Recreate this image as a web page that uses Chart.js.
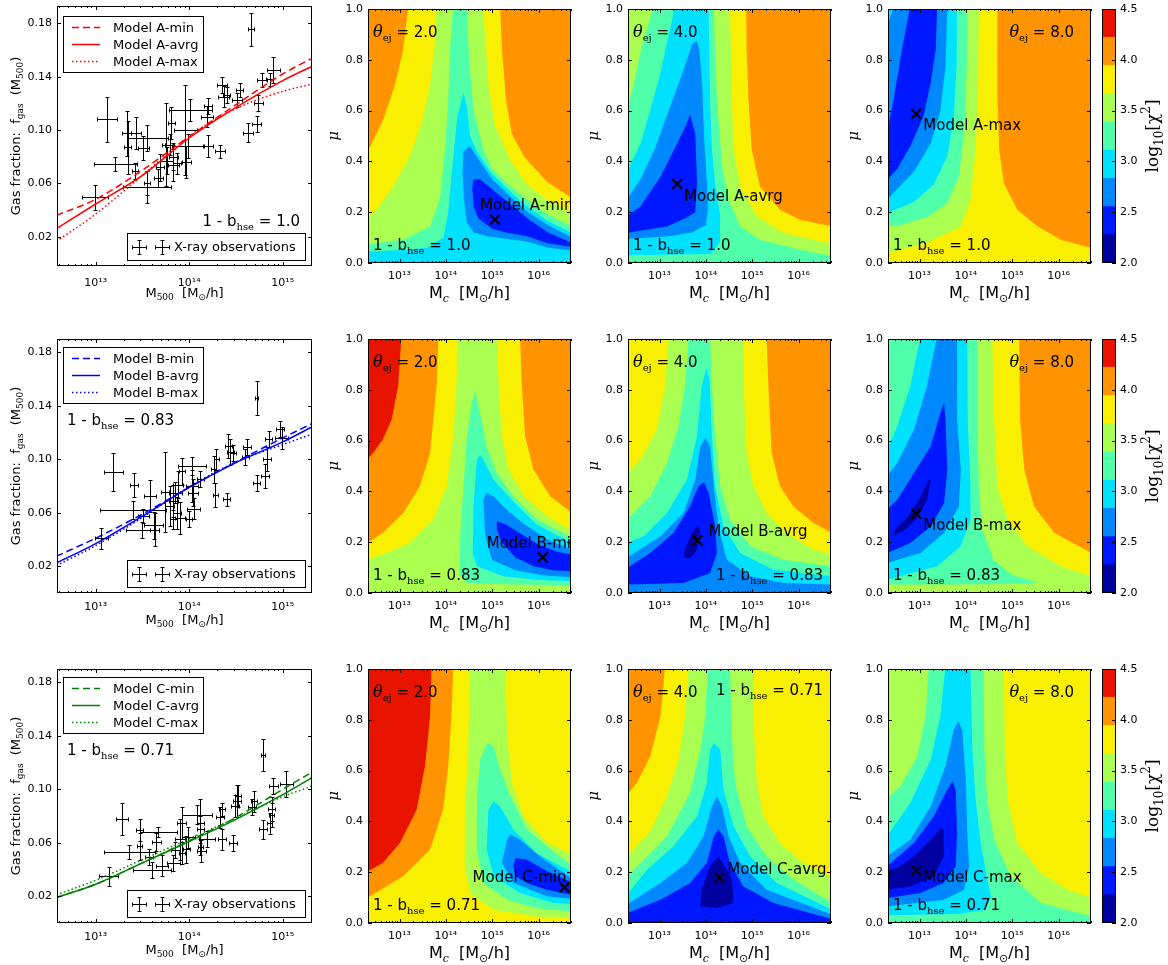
<!DOCTYPE html>
<html>
<head>
<meta charset="utf-8">
<title>Gas fraction fits and chi2 maps</title>
<script src="https://cdn.jsdelivr.net/npm/chart.js@4.4.1/dist/chart.umd.min.js"></script>
<style>
  html, body { margin: 0; padding: 0; background: #fff; }
  body { position: relative; width: 1168px; height: 965px; overflow: hidden; }
  canvas { position: absolute; }
</style>
</head>
<body>
<script>
// ---------- values ----------

// contour levels of log10(chi^2) and the band colours between them
const levels = [2.0, 2.2778, 2.5556, 2.8333, 3.1111, 3.3889, 3.6667, 3.9444, 4.2222, 4.5];
const bandColors = ['#0000a0', '#0018ff', '#0088ff', '#00e0ff', '#50ffaa', '#aaff50', '#f8f000', '#ff9400', '#e81400'];
const colorbarTicks = [2.0, 2.5, 3.0, 3.5, 4.0, 4.5];

const modelNames = ['A', 'B', 'C'];
const fitNames = ['min', 'avrg', 'max'];
const lineColors = ['#ff0000', '#0000ff', '#008000'];
const hseValues = ['1.0', '0.83', '0.71'];
const thetaValues = ['2.0', '4.0', '8.0'];

const fgasTicks = [0.02, 0.06, 0.10, 0.14, 0.18];
const muTicks = [0, 0.2, 0.4, 0.6, 0.8, 1.0];
const decadesFgas = [13, 14, 15];
const decadesMc = [13, 14, 15, 16];

// model curves, log10 M500 vs f_gas
const modelLogM = [12.58, 13.0, 13.5, 14.0, 14.5, 15.0, 15.32];
const fgasAmin = [0.036, 0.048, 0.070, 0.095, 0.119, 0.142, 0.154];
const fgasAavg = [0.026, 0.0445, 0.066, 0.094, 0.117, 0.137, 0.148];
const fgasAmax = [0.0165, 0.037, 0.066, 0.0955, 0.116, 0.129, 0.1345];
const fgasBmin = [0.0275, 0.041, 0.059, 0.079, 0.098, 0.116, 0.127];
const fgasBavg = [0.0225, 0.037, 0.0575, 0.079, 0.0975, 0.113, 0.1245];
const fgasBmax = [0.0205, 0.0355, 0.0565, 0.0795, 0.098, 0.111, 0.119];
const fgasCmin = [0.019, 0.029, 0.045, 0.0615, 0.079, 0.100, 0.113];
const fgasCavg = [0.019, 0.029, 0.045, 0.061, 0.0775, 0.096, 0.109];
const fgasCmax = [0.021, 0.032, 0.0475, 0.063, 0.0785, 0.0945, 0.1025];

// X-ray observations: log10 M500, half width in dex, f_gas, error
const obsA_logM = [14.66,13.12,13.33,13.34,12.99,13.42,13.51,13.55,13.21,13.55,13.55,13.67,13.76,13.75,13.79,13.83,13.87,13.81,13.96,14.01,13.97,13.99,13.83,14.19,14.20,14.33,14.20,14.35,14.37,14.40,14.51,14.54,14.63,14.72,14.74,14.78,14.86,14.90,13.69,13.43];
const obsA_dlogM = [0.035,0.11,0.05,0.04,0.14,0.035,0.06,0.22,0.23,0.035,0.26,0.05,0.07,0.04,0.05,0.05,0.04,0.04,0.12,0.23,0.05,0.17,0.06,0.06,0.05,0.05,0.04,0.05,0.06,0.04,0.05,0.04,0.05,0.05,0.05,0.05,0.04,0.07,0.04,0.05];
const obsA_f = [0.1755,0.108,0.0975,0.087,0.0495,0.069,0.0865,0.094,0.0745,0.06,0.057,0.064,0.077,0.089,0.089,0.08,0.075,0.105,0.1,0.115,0.076,0.088,0.0735,0.11,0.088,0.084,0.118,0.134,0.125,0.126,0.1225,0.13,0.098,0.1045,0.12,0.1375,0.138,0.145,0.072,0.0975];
const obsA_df = [0.0125,0.017,0.017,0.02,0.0095,0.006,0.009,0.01,0.005,0.009,0.012,0.007,0.01,0.031,0.008,0.01,0.008,0.012,0.034,0.008,0.012,0.009,0.012,0.008,0.008,0.005,0.006,0.006,0.008,0.006,0.005,0.005,0.007,0.006,0.006,0.005,0.005,0.01,0.01,0.012];

const obsB_logM = [14.72,13.19,13.06,13.41,13.58,13.40,13.51,13.62,13.63,13.50,13.74,13.79,13.83,13.85,13.87,13.90,13.88,14.03,13.92,14.03,14.04,14.05,14.26,14.29,14.28,14.40,14.42,14.44,14.47,14.60,14.62,14.72,14.81,14.83,14.85,14.97,14.99,14.12,14.00,13.83];
const obsB_dlogM = [0.02,0.1,0.07,0.04,0.06,0.35,0.06,0.1,0.05,0.18,0.04,0.05,0.05,0.07,0.04,0.05,0.05,0.15,0.03,0.06,0.05,0.07,0.03,0.03,0.03,0.04,0.04,0.04,0.03,0.04,0.04,0.04,0.04,0.04,0.04,0.04,0.07,0.04,0.03,0.04];
const obsB_f = [0.1458,0.0905,0.0408,0.081,0.0725,0.062,0.0575,0.0505,0.0475,0.047,0.0755,0.065,0.069,0.075,0.06,0.056,0.081,0.095,0.091,0.08,0.075,0.063,0.0925,0.1,0.0735,0.07,0.11,0.1055,0.105,0.102,0.109,0.082,0.0875,0.1,0.115,0.1225,0.116,0.085,0.055,0.055];
const obsB_df = [0.013,0.014,0.008,0.009,0.012,0.007,0.005,0.01,0.012,0.006,0.03,0.015,0.012,0.008,0.012,0.012,0.01,0.007,0.01,0.012,0.01,0.008,0.01,0.008,0.009,0.005,0.009,0.01,0.006,0.006,0.006,0.006,0.009,0.009,0.006,0.006,0.008,0.006,0.006,0.007];

const obsC_logM = [14.79,13.28,13.14,13.47,13.47,13.65,13.36,13.57,13.67,13.71,13.60,13.83,13.85,13.90,13.92,13.97,13.99,14.08,14.12,14.13,14.19,14.12,14.33,14.35,14.35,14.47,14.49,14.51,14.52,14.67,14.69,14.79,14.86,14.88,14.90,15.04,14.88,14.12,13.92];
const obsC_dlogM = [0.02,0.06,0.1,0.04,0.03,0.05,0.27,0.04,0.2,0.06,0.2,0.07,0.05,0.05,0.05,0.04,0.07,0.16,0.04,0.05,0.09,0.04,0.04,0.04,0.03,0.04,0.04,0.04,0.03,0.04,0.03,0.04,0.03,0.04,0.05,0.07,0.03,0.03,0.03];
const obsC_f = [0.1255,0.0775,0.035,0.0695,0.0575,0.0605,0.053,0.0495,0.068,0.043,0.04,0.045,0.0545,0.0625,0.075,0.055,0.064,0.081,0.07,0.054,0.0625,0.075,0.079,0.0625,0.085,0.06,0.0875,0.091,0.095,0.087,0.091,0.07,0.0745,0.085,0.1025,0.104,0.081,0.057,0.0525];
const obsC_df = [0.012,0.012,0.007,0.008,0.01,0.007,0.005,0.006,0.004,0.008,0.006,0.006,0.006,0.015,0.012,0.01,0.008,0.007,0.01,0.008,0.006,0.018,0.008,0.008,0.005,0.006,0.008,0.012,0.008,0.006,0.008,0.007,0.008,0.009,0.006,0.01,0.009,0.006,0.008];

// best-fit points (log10 Mc, mu) per model row and theta_ej column
const bestLogMc = [[15.06, 13.38, 12.93], [16.09, 13.82, 12.93], [16.56, 14.29, 12.93]];
const bestMu = [[0.171, 0.311, 0.587], [0.14, 0.207, 0.312], [0.14, 0.178, 0.206]];

// contour regions: [band, outline in (log10 Mc, mu)], each one the set of
// points below a level; painted from the outside in
const baseBands = [[7, 7, 7], [8, 7, 7], [8, 7, 6]];
const FULL = [[12.3,-0.01],[16.72,-0.01],[16.72,1.01],[12.3,1.01]];

const regA2 = [
  [6, [[12.3,0.435],[12.64,0.56],[12.9,0.70],[13.08,0.84],[13.19,1.01],[15.17,1.01],[15.21,0.84],[15.3,0.64],[15.42,0.51],[15.68,0.42],[16.18,0.32],[16.72,0.255],[16.72,-0.01],[12.3,-0.01]]],
  [5, [[12.3,0.175],[12.5,0.21],[12.86,0.30],[13.22,0.42],[13.48,0.55],[13.66,0.70],[13.77,0.88],[13.80,1.01],[14.81,1.01],[14.85,0.88],[14.92,0.70],[15.06,0.54],[15.4,0.40],[15.75,0.31],[16.2,0.245],[16.72,0.197],[16.72,-0.01],[12.3,-0.01]]],
  [4, [[12.3,0.072],[13.08,0.092],[13.66,0.144],[13.87,0.249],[13.98,0.446],[14.05,0.643],[14.09,0.84],[14.16,1.01],[14.45,1.01],[14.5,0.8],[14.6,0.6],[14.8,0.45],[15.0,0.37],[15.4,0.30],[15.75,0.25],[16.2,0.19],[16.72,0.144],[16.72,-0.01],[12.3,-0.01]]],
  [3, [[12.3,0.045],[13.0,0.05],[13.6,0.06],[13.95,0.10],[14.05,0.2],[14.15,0.4],[14.25,0.58],[14.38,0.67],[14.45,0.62],[14.52,0.5],[14.7,0.43],[15.0,0.35],[15.4,0.28],[15.75,0.223],[16.2,0.165],[16.72,0.118],[16.72,-0.01],[12.3,-0.01]]],
  [2, [[14.38,0.44],[14.52,0.46],[14.74,0.40],[15.0,0.33],[15.4,0.26],[15.75,0.203],[16.2,0.15],[16.72,0.10],[16.72,0.05],[16.2,0.06],[15.75,0.085],[15.3,0.095],[14.9,0.105],[14.6,0.12],[14.45,0.16],[14.39,0.25],[14.36,0.35]]],
  [1, [[14.59,0.328],[14.74,0.33],[15.0,0.29],[15.4,0.23],[15.75,0.177],[16.2,0.12],[16.72,0.079],[16.72,0.063],[16.2,0.078],[15.75,0.105],[15.3,0.12],[15.0,0.135],[14.7,0.175],[14.6,0.22],[14.57,0.29]]]
];
const regA4 = [
  [6, [[12.3,1.01],[14.87,1.01],[14.88,0.84],[14.92,0.643],[14.99,0.446],[15.17,0.30],[15.6,0.21],[16.03,0.17],[16.72,0.144],[16.72,-0.01],[12.3,-0.01]]],
  [5, [[12.3,1.01],[14.52,1.01],[14.54,0.84],[14.56,0.643],[14.6,0.446],[14.74,0.30],[15.1,0.184],[15.67,0.118],[16.72,0.075],[16.72,-0.01],[12.3,-0.01]]],
  [4, [[12.3,0.604],[12.44,0.70],[12.6,0.84],[12.87,1.01],[14.17,1.01],[14.2,0.8],[14.24,0.643],[14.35,0.381],[14.49,0.249],[14.74,0.144],[15.17,0.092],[16.03,0.052],[16.72,0.028],[16.72,-0.01],[12.3,-0.01]]],
  [3, [[12.3,0.36],[12.59,0.47],[12.8,0.6],[13.02,0.75],[13.2,0.9],[13.34,1.01],[14.06,1.01],[14.09,0.643],[14.13,0.446],[14.2,0.315],[14.31,0.184],[14.3,0.08],[14.1,0.035],[12.3,0.03]]],
  [2, [[12.3,0.25],[12.59,0.33],[12.9,0.45],[13.2,0.6],[13.5,0.75],[13.7,0.86],[13.8,0.875],[13.86,0.84],[13.92,0.7],[13.96,0.5],[14.01,0.35],[14.05,0.22],[14.0,0.15],[13.7,0.12],[13.2,0.105],[12.3,0.095]]],
  [1, [[12.3,0.118],[13.16,0.144],[13.6,0.18],[13.77,0.2],[13.81,0.315],[13.77,0.51],[13.66,0.585],[13.59,0.55],[13.38,0.47],[13.02,0.34],[12.59,0.223],[12.3,0.184]]]
];
const regA8 = [
  [6, [[12.3,1.01],[14.68,1.01],[14.68,0.643],[14.72,0.446],[14.82,0.315],[15.11,0.21],[15.55,0.144],[16.05,0.092],[16.72,0.059],[16.72,-0.01],[12.3,-0.01]]],
  [5, [[12.3,0.039],[13.16,0.079],[13.89,0.144],[14.1,0.249],[14.21,0.446],[14.26,0.643],[14.28,1.01],[12.3,1.01]]],
  [4, [[12.3,0.144],[12.59,0.15],[13.16,0.18],[13.6,0.235],[13.85,0.341],[13.96,0.512],[14.02,0.774],[14.03,1.01],[12.3,1.01]]],
  [3, [[12.3,0.197],[12.88,0.24],[13.31,0.31],[13.6,0.42],[13.74,0.577],[13.8,0.774],[13.81,1.01],[12.3,1.01]]],
  [2, [[12.3,0.249],[12.88,0.36],[13.24,0.47],[13.45,0.6],[13.56,0.774],[13.6,1.01],[12.44,1.01],[12.3,0.93]]],
  [1, [[12.3,0.328],[12.52,0.37],[12.8,0.46],[13.09,0.58],[13.24,0.709],[13.35,0.84],[13.38,1.01],[12.8,1.01],[12.62,0.84],[12.44,0.643],[12.3,0.512]]]
];
const regB2 = [
  [7, [[12.3,0.525],[12.43,0.551],[12.64,0.604],[12.83,0.682],[12.97,0.814],[13.04,1.01],[16.72,1.01],[16.72,-0.01],[12.3,-0.01]]],
  [6, [[12.3,0.197],[12.64,0.236],[13.08,0.315],[13.44,0.42],[13.66,0.551],[13.8,0.814],[13.84,1.01],[15.6,1.01],[15.64,0.814],[15.71,0.617],[15.89,0.486],[16.25,0.381],[16.72,0.315],[16.72,-0.01],[12.3,-0.01]]],
  [5, [[12.3,0.131],[12.72,0.157],[13.22,0.197],[13.73,0.289],[14.02,0.42],[14.16,0.617],[14.23,0.814],[14.26,1.01],[15.1,1.01],[15.14,0.814],[15.21,0.617],[15.35,0.486],[15.68,0.381],[16.18,0.302],[16.72,0.243],[16.72,-0.01],[12.3,-0.01]]],
  [4, [[14.63,0.794],[14.77,0.682],[14.88,0.577],[15.1,0.472],[15.46,0.381],[15.96,0.29],[16.72,0.217],[16.72,0.03],[15.0,0.035],[14.45,0.04],[14.3,0.07],[14.31,0.223],[14.38,0.42],[14.45,0.61],[14.56,0.75]]],
  [3, [[14.74,0.545],[14.81,0.525],[15.03,0.446],[15.46,0.36],[15.96,0.27],[16.72,0.197],[16.72,0.046],[15.96,0.052],[15.24,0.066],[14.67,0.105],[14.58,0.157],[14.6,0.354],[14.67,0.525]]],
  [2, [[14.88,0.394],[15.03,0.38],[15.3,0.33],[15.7,0.27],[16.2,0.21],[16.72,0.171],[16.72,0.062],[16.1,0.07],[15.5,0.09],[15.0,0.13],[14.85,0.223],[14.81,0.367]]],
  [1, [[15.1,0.282],[15.3,0.27],[15.6,0.235],[16.0,0.19],[16.4,0.162],[16.72,0.151],[16.72,0.085],[16.3,0.09],[15.9,0.105],[15.5,0.14],[15.2,0.2],[15.1,0.25]]]
];
const regB4 = [
  [6, [[12.3,1.01],[15.31,1.01],[15.35,0.814],[15.42,0.551],[15.6,0.42],[15.89,0.341],[16.32,0.276],[16.72,0.236],[16.72,-0.01],[12.3,-0.01]]],
  [5, [[12.3,0.472],[12.59,0.525],[12.94,0.643],[13.12,0.814],[13.2,1.01],[14.81,1.01],[14.83,0.748],[14.88,0.551],[15.03,0.42],[15.31,0.315],[15.74,0.236],[16.32,0.171],[16.72,0.151],[16.72,-0.01],[12.3,-0.01]]],
  [4, [[12.3,0.289],[12.8,0.38],[13.16,0.512],[13.41,0.656],[13.55,0.814],[13.63,1.01],[14.09,1.01],[14.13,0.814],[14.2,0.617],[14.31,0.42],[14.52,0.289],[14.96,0.184],[15.67,0.131],[16.72,0.105],[16.72,-0.01],[12.3,-0.01]]],
  [3, [[12.3,0.197],[12.66,0.223],[13.16,0.315],[13.59,0.446],[13.81,0.617],[13.91,0.814],[14.01,0.886],[14.08,0.84],[14.13,0.617],[14.2,0.42],[14.38,0.262],[14.74,0.157],[15.46,0.092],[16.72,0.066],[16.72,-0.01],[12.3,-0.01]]],
  [2, [[12.3,0.138],[13.02,0.223],[13.52,0.315],[13.77,0.446],[13.88,0.577],[13.99,0.61],[14.09,0.577],[14.17,0.42],[14.27,0.262],[14.45,0.131],[14.96,0.066],[15.67,0.039],[16.72,0.033],[16.72,-0.01],[12.3,-0.01]]],
  [1, [[12.3,0.098],[12.8,0.157],[13.3,0.236],[13.66,0.341],[13.84,0.42],[13.96,0.436],[14.06,0.394],[14.2,0.262],[14.24,0.157],[14.09,0.079],[13.52,0.039],[12.3,0.033]]],
  [0, [[13.84,0.269],[13.88,0.236],[13.81,0.17],[13.66,0.138],[13.52,0.138],[13.55,0.17],[13.7,0.236]]]
];
const regB8 = [
  [6, [[12.3,1.01],[15.15,1.01],[15.17,0.682],[15.26,0.486],[15.47,0.341],[15.91,0.236],[16.72,0.157],[16.72,-0.01],[12.3,-0.01]]],
  [5, [[12.3,1.01],[14.57,1.01],[14.61,0.682],[14.68,0.42],[14.9,0.289],[15.33,0.184],[16.05,0.105],[16.72,0.066],[16.72,-0.01],[12.3,-0.01]]],
  [4, [[12.3,1.01],[14.25,1.01],[14.25,0.682],[14.28,0.42],[14.35,0.25],[14.6,0.13],[15.0,0.07],[15.5,0.045],[15.5,0.038],[14.5,0.034],[12.3,0.033]]],
  [3, [[12.3,0.564],[12.52,0.656],[12.8,0.814],[13.02,1.01],[14.03,1.01],[14.04,0.682],[14.1,0.42],[14.1,0.289],[13.89,0.184],[13.38,0.105],[12.3,0.052]]],
  [2, [[12.3,0.46],[12.52,0.512],[12.88,0.643],[13.16,0.814],[13.38,1.01],[13.81,1.01],[13.81,0.682],[13.89,0.486],[13.85,0.341],[13.53,0.236],[13.02,0.157],[12.3,0.118]]],
  [1, [[12.3,0.328],[12.52,0.367],[12.88,0.472],[13.24,0.577],[13.45,0.709],[13.53,0.748],[13.56,0.682],[13.6,0.486],[13.53,0.354],[13.24,0.262],[12.8,0.197],[12.3,0.157]]],
  [0, [[12.42,0.225],[12.7,0.25],[12.95,0.295],[13.17,0.37],[13.24,0.445],[13.2,0.445],[13.0,0.37],[12.75,0.3],[12.5,0.255]]]
];
const regC2 = [
  [7, [[12.3,0.203],[12.64,0.236],[13.01,0.315],[13.37,0.446],[13.55,0.617],[13.66,0.814],[13.69,1.01],[16.72,1.01],[16.72,-0.01],[12.3,-0.01]]],
  [6, [[12.3,0.098],[13.08,0.184],[13.66,0.289],[13.94,0.446],[14.05,0.617],[14.12,0.814],[14.16,1.01],[16.72,1.01],[16.72,-0.01],[12.3,-0.01]]],
  [5, [[14.52,1.01],[14.48,0.682],[14.41,0.42],[14.41,0.223],[14.52,0.118],[15.03,0.052],[15.96,0.026],[16.72,0.02],[16.72,0.27],[16.18,0.315],[15.68,0.42],[15.42,0.551],[15.32,0.748],[15.28,1.01]]],
  [4, [[14.88,0.709],[15.03,0.696],[15.17,0.604],[15.39,0.499],[15.75,0.37],[16.25,0.29],[16.72,0.228],[16.72,0.045],[15.96,0.059],[15.32,0.092],[14.81,0.157],[14.67,0.289],[14.67,0.486],[14.74,0.643]]],
  [3, [[15.03,0.479],[15.17,0.459],[15.46,0.367],[15.96,0.276],[16.72,0.2],[16.72,0.075],[16.33,0.079],[15.6,0.118],[15.03,0.184],[14.88,0.289],[14.92,0.446]]],
  [2, [[15.39,0.348],[15.6,0.328],[16.03,0.262],[16.72,0.175],[16.72,0.095],[16.18,0.105],[15.46,0.157],[15.21,0.236],[15.32,0.328]]],
  [1, [[15.5,0.256],[15.75,0.249],[16.18,0.205],[16.72,0.16],[16.72,0.11],[16.18,0.131],[15.75,0.157],[15.5,0.184],[15.46,0.223]]]
];
const regC4 = [
  [6, [[12.3,0.505],[12.51,0.551],[12.8,0.656],[13.02,0.814],[13.12,1.01],[16.72,1.01],[16.72,-0.01],[12.3,-0.01]]],
  [5, [[12.3,0.262],[12.8,0.36],[13.16,0.5],[13.41,0.643],[13.55,0.814],[13.63,1.01],[15.03,1.01],[15.04,0.748],[15.1,0.551],[15.24,0.42],[15.6,0.315],[16.1,0.236],[16.72,0.175],[16.72,-0.01],[12.3,-0.01]]],
  [4, [[12.3,0.184],[12.66,0.249],[13.16,0.341],[13.66,0.512],[13.88,0.682],[13.99,0.814],[14.04,1.01],[14.52,1.01],[14.56,0.748],[14.63,0.551],[14.88,0.38],[15.31,0.262],[15.89,0.171],[16.72,0.079],[16.72,-0.01],[12.3,-0.01]]],
  [3, [[12.3,0.112],[12.73,0.21],[13.3,0.302],[13.81,0.42],[14.02,0.551],[14.09,0.682],[14.18,0.709],[14.31,0.682],[14.38,0.525],[14.6,0.38],[14.96,0.262],[15.53,0.157],[16.72,0.052],[16.72,-0.01],[12.3,-0.01]]],
  [2, [[12.3,0.072],[13.02,0.157],[13.59,0.236],[13.95,0.341],[14.13,0.459],[14.24,0.499],[14.35,0.459],[14.49,0.341],[14.74,0.236],[15.31,0.131],[16.72,0.033],[16.72,-0.01],[12.3,-0.01]]],
  [1, [[12.3,0.039],[13.02,0.092],[13.66,0.157],[14.02,0.236],[14.17,0.341],[14.27,0.367],[14.38,0.341],[14.52,0.236],[14.81,0.144],[15.46,0.079],[16.72,0.016],[16.72,-0.01],[12.3,-0.01]]],
  [0, [[14.27,0.262],[14.42,0.22],[14.56,0.171],[14.6,0.079],[14.24,0.059],[13.88,0.066],[13.91,0.131],[14.09,0.223]]]
];
const regC8 = [
  [5, [[12.3,1.01],[14.82,1.01],[14.84,0.682],[14.9,0.486],[15.11,0.315],[15.62,0.197],[16.2,0.131],[16.72,0.098],[16.72,-0.01],[12.3,-0.01]]],
  [4, [[12.3,0.492],[12.59,0.538],[12.95,0.656],[13.13,0.814],[13.2,1.01],[14.38,1.01],[14.4,0.682],[14.46,0.486],[14.61,0.328],[14.97,0.184],[15.62,0.079],[16.72,0.026],[16.72,-0.01],[12.3,-0.01]]],
  [3, [[12.3,0.341],[12.8,0.472],[13.24,0.643],[13.45,0.814],[13.56,1.01],[14.1,1.01],[14.14,0.682],[14.21,0.486],[14.32,0.315],[14.45,0.18],[14.55,0.1],[14.4,0.05],[13.8,0.035],[12.3,0.03]]],
  [2, [[12.3,0.262],[12.8,0.328],[13.24,0.459],[13.56,0.617],[13.74,0.761],[13.84,0.794],[13.92,0.761],[14.0,0.551],[14.03,0.354],[14.07,0.223],[13.96,0.131],[13.52,0.092],[12.3,0.066]]],
  [1, [[12.3,0.223],[12.88,0.315],[13.31,0.42],[13.56,0.512],[13.71,0.558],[13.78,0.525],[13.81,0.354],[13.78,0.223],[13.52,0.157],[13.02,0.118],[12.3,0.098]]],
  [0, [[12.3,0.203],[12.59,0.223],[12.88,0.262],[13.31,0.341],[13.45,0.374],[13.52,0.367],[13.52,0.262],[13.31,0.184],[12.8,0.144],[12.3,0.131]]]
];

// ---------- layout ----------
const ROW_TOP = [9, 339, 669], ROW_H = 254;
const COL_LEFT = [57, 368, 628, 888];
const FW = 255, CW = 203;
const XF_LO = 12.586, XF_HI = 15.313;   // f_gas panels, log10 M500
const XC_LO = 12.32, XC_HI = 16.7;      // chi2 maps, log10 Mc

const fgasModels = [[fgasAmin, fgasAavg, fgasAmax], [fgasBmin, fgasBavg, fgasBmax], [fgasCmin, fgasCavg, fgasCmax]];
const observations = [[obsA_logM, obsA_dlogM, obsA_f, obsA_df], [obsB_logM, obsB_dlogM, obsB_f, obsB_df], [obsC_logM, obsC_dlogM, obsC_f, obsC_df]];
const contourRegions = [[regA2, regA4, regA8], [regB2, regB4, regB8], [regC2, regC4, regC8]];
const lineDashes = [[7, 4], [], [1.5, 2.5]];
const labelOffsets = [[[-15, -15], [7, 12], [7, 11]], [[-56, -15], [11, -10], [7, 11]], [[-92, -11], [8, -9], [7, 6]]];

Chart.defaults.font.family = '"DejaVu Sans", sans-serif';
Chart.defaults.font.size = 11;
Chart.defaults.color = '#000';

// ---------- helpers ----------
const SUP = {'0':'⁰','1':'¹','2':'²','3':'³','4':'⁴','5':'⁵','6':'⁶','7':'⁷','8':'⁸','9':'⁹'};
const pow10Label = v => '10' + String(Math.round(Math.log10(v))).split('').map(c => SUP[c]).join('');
const sans = s => `${s}px "DejaVu Sans"`;
const serif = s => `${s}px "DejaVu Serif"`;
const iserif = s => `italic ${s}px "DejaVu Serif"`;
const snap = v => Math.round(v) + 0.5;

function makeCanvas(left, top, w, h) {
  const c = document.createElement('canvas');
  c.width = w; c.height = h;
  c.style.left = left + 'px'; c.style.top = top + 'px';
  c.style.width = w + 'px'; c.style.height = h + 'px';
  document.body.appendChild(c);
  return c;
}

// draw a row of text pieces (sub/superscripts) around a vertical centre
function drawRuns(ctx, runs, x, yMid, align, size) {
  ctx.textBaseline = 'alphabetic';
  ctx.textAlign = 'left';
  let w = 0;
  for (const r of runs) { ctx.font = r.f; w += ctx.measureText(r.t).width; }
  let cx = align === 'right' ? x - w : align === 'center' ? x - w / 2 : x;
  const base = yMid + size * 0.36;
  for (const r of runs) {
    ctx.font = r.f;
    ctx.fillText(r.t, cx, base + (r.dy || 0));
    cx += ctx.measureText(r.t).width;
  }
}
function drawRotated(ctx, runs, cx, cy, size) {
  ctx.save();
  ctx.translate(cx, cy);
  ctx.rotate(-Math.PI / 2);
  drawRuns(ctx, runs, 0, 0, 'center', size);
  ctx.restore();
}

const hseRuns = v => [{t: '1 - b', f: sans(15)}, {t: 'hse', f: serif(10), dy: 4}, {t: ' = ' + v, f: sans(15)}];
const thetaRuns = v => [{t: 'θ', f: iserif(16)}, {t: 'ej', f: serif(10), dy: 4}, {t: ' = ' + v, f: sans(15)}];
const mcTitle = [{t: 'M', f: sans(16)}, {t: 'c', f: iserif(11), dy: 4}, {t: '  [M', f: sans(16)}, {t: '⊙', f: sans(11), dy: 4}, {t: '/h]', f: sans(16)}];
const m500Title = [{t: 'M', f: sans(13)}, {t: '500', f: serif(9), dy: 3.5}, {t: '  [M', f: sans(13)}, {t: '⊙', f: sans(9), dy: 3.5}, {t: '/h]', f: sans(13)}];
const fgasTitle = [{t: 'Gas fraction:  f', f: sans(13)}, {t: 'gas', f: serif(9), dy: 3}, {t: '  (M', f: sans(13)}, {t: '500', f: serif(9), dy: 3}, {t: ')', f: sans(13)}];
const muTitle = [{t: 'μ', f: iserif(15)}];
const chiTitle = [{t: 'log', f: serif(17)}, {t: '10', f: serif(12), dy: 4.5}, {t: '[χ', f: serif(17)}, {t: '2', f: serif(12), dy: -8}, {t: ']', f: serif(17)}];

function minorLogTicks(lo, hi) {
  const out = [];
  for (let d = Math.floor(lo); d <= Math.ceil(hi); d++) {
    for (let m = 2; m <= 9; m++) {
      const lv = d + Math.log10(m);
      if (lv > lo && lv < hi) out.push(10 ** lv);
    }
  }
  return out;
}

function frameTicks(ctx, a, scales, o) {
  const {x, y} = scales;
  ctx.strokeStyle = '#000';
  ctx.lineWidth = 1;
  ctx.setLineDash([]);
  ctx.beginPath();
  (o.xMajor || []).forEach(v => tickX(v, 4));
  (o.xMinor || []).forEach(v => tickX(v, 2));
  (o.yMajor || []).forEach(v => {
    const p = snap(y.getPixelForValue(v));
    if (!o.rightOnly) { ctx.moveTo(a.left, p); ctx.lineTo(a.left + 4, p); }
    ctx.moveTo(a.right, p); ctx.lineTo(a.right - 4, p);
  });
  ctx.stroke();
  ctx.strokeRect(a.left + 0.5, a.top + 0.5, a.width - 1, a.height - 1);
  function tickX(v, len) {
    const p = snap(x.getPixelForValue(v));
    ctx.moveTo(p, a.bottom); ctx.lineTo(p, a.bottom - len);
    ctx.moveTo(p, a.top); ctx.lineTo(p, a.top + len);
  }
}

function decor(o) {
  return {
    id: 'decor',
    beforeDatasetsDraw(chart) {
      if (!o.under) return;
      const {ctx, chartArea, scales} = chart;
      ctx.save(); o.under(ctx, chartArea, scales); ctx.restore();
    },
    afterDraw(chart) {
      const {ctx, chartArea, scales} = chart;
      ctx.save();
      if (o.over) o.over(ctx, chartArea, scales);
      frameTicks(ctx, chartArea, scales, o);
      ctx.restore();
    }
  };
}

function logAxis(lo, hi, decades, height, pad) {
  return {
    type: 'logarithmic', min: 10 ** lo, max: 10 ** hi,
    afterBuildTicks: s => { s.ticks = decades.map(d => ({value: 10 ** d})); },
    afterFit: s => { s.height = height; },
    ticks: {autoSkip: false, maxRotation: 0, padding: pad, callback: v => pow10Label(v)},
    grid: {display: false, drawTicks: false}, border: {display: false}
  };
}
function linAxis(min, max, ticks, digits, width) {
  return {
    type: 'linear', min, max,
    afterBuildTicks: s => { s.ticks = ticks.map(v => ({value: v})); },
    afterFit: s => { s.width = width; },
    ticks: {padding: 5, callback: v => v.toFixed(digits)},
    grid: {display: false, drawTicks: false}, border: {display: false}
  };
}
const baseOptions = () => ({
  responsive: false, animation: false, devicePixelRatio: 1, events: [],
  plugins: {legend: {display: false}, tooltip: {enabled: false}}
});

function drawCross(ctx, cx, cy, x1, x2, y1, y2, cap) {
  ctx.moveTo(x1, cy); ctx.lineTo(x2, cy);
  ctx.moveTo(cx, y1); ctx.lineTo(cx, y2);
  ctx.moveTo(x1, cy - cap); ctx.lineTo(x1, cy + cap);
  ctx.moveTo(x2, cy - cap); ctx.lineTo(x2, cy + cap);
  ctx.moveTo(cx - cap, y1); ctx.lineTo(cx + cap, y1);
  ctx.moveTo(cx - cap, y2); ctx.lineTo(cx + cap, y2);
}

// ---------- left column: f_gas vs M500 ----------
function fgasPanel(row) {
  const top = row === 0 ? 6 : ROW_TOP[row];
  const h = row === 0 ? 260 : ROW_H;
  const yMin = row === 0 ? -0.002 : 0, yMax = row === 0 ? 0.193 : 0.19;
  const padL = COL_LEFT[0], padT = 14, padR = 8, padB = 44;
  const canvas = makeCanvas(0, top - padT, padL + FW + padR, padT + h + padB);
  const [oLogM, oDlogM, oF, oDf] = observations[row];

  const datasets = fgasModels[row].map((series, k) => ({
    data: modelLogM.map((lm, i) => ({x: 10 ** lm, y: series[i]})),
    borderColor: lineColors[row], borderWidth: 1.5, borderDash: lineDashes[k],
    pointRadius: 0, fill: false, cubicInterpolationMode: 'monotone'
  }));

  new Chart(canvas, {
    type: 'line',
    data: {datasets},
    options: {
      ...baseOptions(),
      layout: {padding: {left: 0, top: padT, right: padR, bottom: 0}},
      scales: {x: logAxis(XF_LO, XF_HI, decadesFgas, padB, row === 0 ? 11 : 8), y: linAxis(yMin, yMax, fgasTicks, 2, padL)}
    },
    plugins: [decor({
      xMajor: decadesFgas.map(d => 10 ** d), xMinor: minorLogTicks(XF_LO, XF_HI), yMajor: fgasTicks,
      under: (ctx, a, s) => {
        ctx.beginPath(); ctx.rect(a.left, a.top, a.width, a.height); ctx.clip();
        ctx.strokeStyle = '#000'; ctx.lineWidth = 1;
        ctx.beginPath();
        oLogM.forEach((lm, i) => {
          const cx = snap(s.x.getPixelForValue(10 ** lm)), cy = snap(s.y.getPixelForValue(oF[i]));
          drawCross(ctx, cx, cy,
            snap(s.x.getPixelForValue(10 ** (lm - oDlogM[i]))), snap(s.x.getPixelForValue(10 ** (lm + oDlogM[i]))),
            snap(s.y.getPixelForValue(oF[i] + oDf[i])), snap(s.y.getPixelForValue(oF[i] - oDf[i])), 2);
        });
        ctx.stroke();
      },
      over: (ctx, a) => {
        // model legend
        const bx = a.left + 6, by = a.top + (row === 0 ? 10 : 8), bw = 140, bh = 56;
        ctx.fillStyle = '#fff'; ctx.fillRect(bx, by, bw, bh);
        ctx.strokeStyle = '#000'; ctx.lineWidth = 1; ctx.strokeRect(bx + 0.5, by + 0.5, bw, bh);
        [11, 28, 45].forEach((dy, k) => {
          ctx.strokeStyle = lineColors[row]; ctx.lineWidth = 1.5; ctx.setLineDash(lineDashes[k]);
          ctx.beginPath(); ctx.moveTo(bx + 9, by + dy + 0.5); ctx.lineTo(bx + 37, by + dy + 0.5); ctx.stroke();
          ctx.setLineDash([]);
          ctx.fillStyle = '#000';
          drawRuns(ctx, [{t: `Model ${modelNames[row]}-${fitNames[k]}`, f: sans(13)}], bx + 50, by + dy, 'left', 13);
        });
        // observations legend
        const ow = 178, oh = 27, ox = a.right - 7 - ow, oy = a.bottom - 6 - oh;
        ctx.fillStyle = '#fff'; ctx.fillRect(ox, oy, ow, oh);
        ctx.strokeStyle = '#000'; ctx.lineWidth = 1; ctx.strokeRect(ox + 0.5, oy + 0.5, ow, oh);
        const cy = Math.round(oy + oh / 2) + 0.5;
        ctx.beginPath();
        [ox + 12.5, ox + 35.5].forEach(cx => drawCross(ctx, cx, cy, cx - 7, cx + 7, cy - 7, cy + 7, 2));
        ctx.stroke();
        ctx.fillStyle = '#000';
        drawRuns(ctx, [{t: 'X-ray observations', f: sans(13)}], ox + 47, oy + oh / 2, 'left', 13);
        // 1 - b_hse
        if (row === 0) drawRuns(ctx, hseRuns(hseValues[row]), a.right - 12, a.bottom - 45, 'right', 15);
        else drawRuns(ctx, hseRuns(hseValues[row]), a.left + 10, a.top + 81, 'left', 15);
        // axis titles
        drawRuns(ctx, m500Title, (a.left + a.right) / 2, a.bottom + 26, 'center', 13);
        drawRotated(ctx, fgasTitle, 15, (a.top + a.bottom) / 2, 13);
      }
    })]
  });
}

// ---------- chi2 maps ----------
function contourPanel(row, col) {
  const L = COL_LEFT[col + 1], T = ROW_TOP[row];
  const padL = 45, padT = 14, padR = 10, padB = 44;
  const canvas = makeCanvas(L - padL, T - padT, padL + CW + padR, padT + ROW_H + padB);
  const regions = [[baseBands[row][col], FULL], ...contourRegions[row][col]];
  const datasets = regions.map(([band, pts], i) => ({
    data: pts.map(([lm, mu]) => ({x: 10 ** lm, y: mu})),
    fill: 'shape', backgroundColor: bandColors[band], borderWidth: 0,
    pointRadius: 0, tension: 0, order: regions.length - i + 1
  }));
  datasets.push({
    data: [{x: 10 ** bestLogMc[row][col], y: bestMu[row][col]}],
    showLine: false, fill: false, pointStyle: 'crossRot', pointRadius: 7,
    pointBorderWidth: 2, pointBorderColor: '#000', order: 0
  });

  new Chart(canvas, {
    type: 'line',
    data: {datasets},
    options: {
      ...baseOptions(),
      layout: {padding: {left: 0, top: padT, right: padR, bottom: 0}},
      scales: {x: logAxis(XC_LO, XC_HI, decadesMc, padB, 7), y: linAxis(0, 1, muTicks, 1, padL)}
    },
    plugins: [decor({
      xMajor: decadesMc.map(d => 10 ** d), xMinor: minorLogTicks(XC_LO, XC_HI), yMajor: muTicks,
      over: (ctx, a, s) => {
        ctx.fillStyle = '#000';
        if (col < 2) drawRuns(ctx, thetaRuns(thetaValues[col]), a.left + 5, a.top + 23, 'left', 15);
        else drawRuns(ctx, thetaRuns(thetaValues[col]), a.right - 17, a.top + 23, 'right', 15);
        if (row === 1 && col === 1) drawRuns(ctx, hseRuns(hseValues[row]), a.right - 8, a.bottom - 18, 'right', 15);
        else if (row === 2 && col === 1) drawRuns(ctx, hseRuns(hseValues[row]), a.right - 8, a.top + 21, 'right', 15);
        else drawRuns(ctx, hseRuns(hseValues[row]), a.left + 5, a.bottom - 18, 'left', 15);
        // best-fit label, clipped to the axes
        const px = s.x.getPixelForValue(10 ** bestLogMc[row][col]);
        const py = s.y.getPixelForValue(bestMu[row][col]);
        const [dx, dy] = labelOffsets[row][col];
        ctx.save();
        ctx.beginPath(); ctx.rect(a.left, a.top, a.width, a.height); ctx.clip();
        drawRuns(ctx, [{t: `Model ${modelNames[row]}-${fitNames[col]}`, f: sans(15)}], px + dx, py + dy, 'left', 15);
        ctx.restore();
        drawRuns(ctx, mcTitle, (a.left + a.right) / 2, a.bottom + 29, 'center', 16);
        drawRotated(ctx, muTitle, a.left - 35, (a.top + a.bottom) / 2, 15);
      }
    })]
  });
}

// ---------- colour bars ----------
function colorbar(row) {
  const T = ROW_TOP[row], L = 1102, W = 14, padT = 14, padB = 14, padR = 66;
  const canvas = makeCanvas(L, T - padT, W + padR, padT + ROW_H + padB);
  new Chart(canvas, {
    type: 'bar',
    data: {
      labels: ['chi2'],
      datasets: bandColors.map((c, i) => ({
        data: [[levels[i], levels[i + 1]]], backgroundColor: c, borderWidth: 0,
        barPercentage: 1, categoryPercentage: 1, grouped: false
      }))
    },
    options: {
      ...baseOptions(),
      layout: {padding: {left: 0, top: padT, right: 0, bottom: padB}},
      scales: {
        x: {display: false},
        y: {
          position: 'right', min: 2, max: 4.5,
          afterBuildTicks: s => { s.ticks = colorbarTicks.map(v => ({value: v})); },
          afterFit: s => { s.width = padR; },
          ticks: {padding: 4, callback: v => v.toFixed(1)},
          grid: {display: false, drawTicks: false}, border: {display: false}
        }
      }
    },
    plugins: [decor({
      yMajor: colorbarTicks, rightOnly: true,
      over: (ctx, a) => { ctx.fillStyle = '#000'; drawRotated(ctx, chiTitle, a.right + 36, (a.top + a.bottom) / 2, 17); }
    })]
  });
}

for (let r = 0; r < 3; r++) {
  fgasPanel(r);
  for (let c = 0; c < 3; c++) contourPanel(r, c);
  colorbar(r);
}
</script>
</body>
</html>
